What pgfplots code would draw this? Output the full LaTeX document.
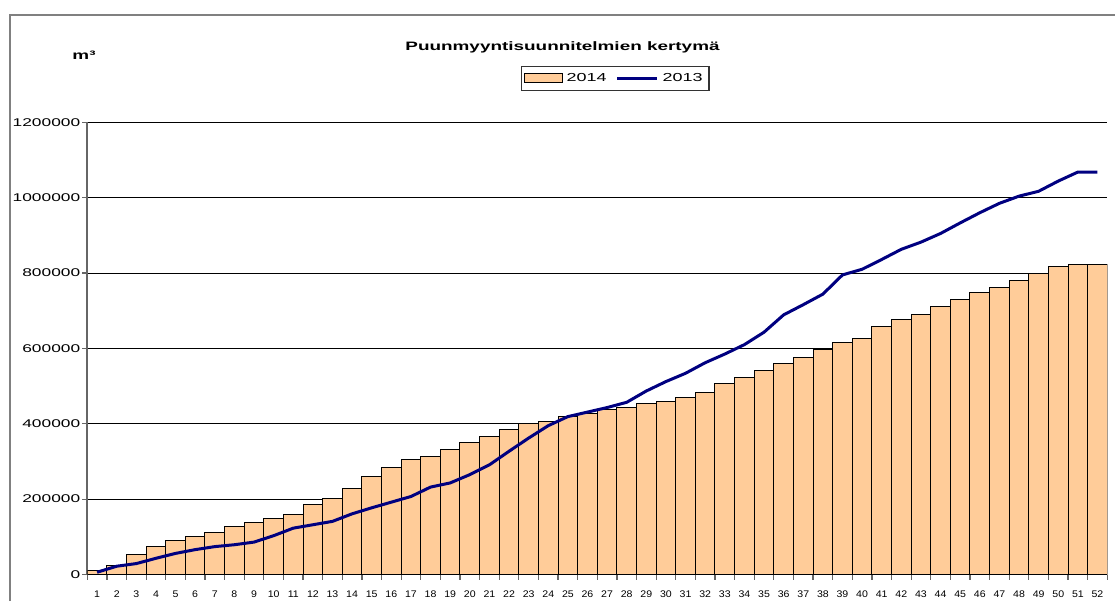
\documentclass[border=0pt]{standalone}
\usepackage{fontspec}
\setmainfont{Liberation Sans}
\newfontfamily\widefont[FakeStretch=1.55]{Liberation Sans}
\newfontfamily\xfont[FakeStretch=1.1]{Liberation Sans}
\usepackage{pgfplots}
\usepackage{pgfplotstable}
\pgfplotsset{compat=1.18}
\definecolor{peach}{HTML}{FFCC99}
\definecolor{navyline}{HTML}{000080}
\definecolor{framegray}{gray}{0.5}
\pgfplotsset{
  barlegend/.style={legend image code/.code={\draw[##1] (0pt,-2.25pt) rectangle (19pt,2.25pt);}},
  linelegend/.style={legend image code/.code={\draw[##1] (0pt,0pt) -- (20pt,0pt);}},
}

% week, cumulative 2014 (bars), cumulative 2013 (line)
\pgfplotstableread{
wk  y2014   y2013
1   10000   6000
2   25000   22000
3   52000   29000
4   74000   43000
5   90000   56000
6   102000  66000
7   112000  74000
8   127000  79000
9   137000  86000
10  149000  103000
11  158000  123000
12  187000  132000
13  202000  141000
14  227000  161000
15  260000  177000
16  283000  192000
17  304000  207000
18  314000  232000
19  331000  243000
20  349000  265000
21  367000  291000
22  384000  327000
23  402000  362000
24  406000  395000
25  419000  419000
26  426000  431000
27  438000  443000
28  442000  457000
29  455000  487000
30  460000  512000
31  470000  534000
32  484000  562000
33  506000  585000
34  524000  610000
35  542000  643000
36  560000  689000
37  577000  716000
38  596000  744000
39  615000  795000
40  627000  810000
41  657000  836000
42  676000  863000
43  690000  882000
44  710000  905000
45  730000  933000
46  749000  960000
47  761000  985000
48  781000  1004000
49  800000  1017000
50  818000  1044000
51  823000  1068000
52  823000  1068000
}\weekdata

\begin{document}
\begin{tikzpicture}
\useasboundingbox (0,0) rectangle (557.5pt,300.5pt);
% outer chart frame
\draw[framegray, line width=1pt] (5pt,0) -- (5pt,293pt) -- (557.5pt,293pt);
\begin{axis}[
  at={(43.65pt,13.25pt)}, anchor=south west,
  scale only axis, width=510pt, height=226.1pt,
  xmin=0.5, xmax=52.5, ymin=0, ymax=1200000,
  axis x line*=bottom, axis y line*=left,
  axis line style={draw=black!60, line width=0.9pt},
  xtick={1,...,52}, major x tick style={draw=none},
  minor xtick={0.5,1.5,...,52.5},
  minor x tick style={draw=black!60, line width=0.6pt},
  minor tick length=2.5pt,
  ytick={0,200000,...,1200000},
  major y tick style={draw=black!60, line width=0.6pt},
  major tick length=2.5pt, tick align=outside,
  ymajorgrids, grid style={black, line width=0.5pt},
  scaled y ticks=false,
  /pgf/number format/.cd, fixed, precision=0, 1000 sep={}, assume math mode=true, /pgfplots/.cd,
  yticklabel style={font=\widefont\fontsize{5.6}{6}\selectfont, xshift=2.5pt},
  xticklabel style={font=\xfont\fontsize{4.8}{5}\selectfont, yshift=-2pt},
  legend columns=2,
  legend style={at={(rel axis cs:0.5174,1.0969)}, anchor=center,
    draw=black!80, line width=0.6pt, inner sep=1.2pt,
    font=\widefont\fontsize{5.8}{7}\selectfont,
    /tikz/every even column/.append style={column sep=2.5pt}},
]
\addplot[ybar, bar width=9.8pt, bar shift=0pt, fill=peach, draw=black,
  line width=0.5pt, barlegend]
  table[x=wk, y=y2014] {\weekdata};
\addlegendentry{2014}
\addplot[navyline, line width=1.5pt, mark=none, linelegend]
  table[x=wk, y=y2013] {\weekdata};
\addlegendentry{2013}
\end{axis}
\node[font=\widefont\bfseries\fontsize{6.1}{7}\selectfont] at (281.25pt,277pt) {Puunmyyntisuunnitelmien kertymä};
\node[font=\widefont\bfseries\fontsize{6.1}{7}\selectfont] at (42pt,273pt) {m³};
\end{tikzpicture}
\end{document}
